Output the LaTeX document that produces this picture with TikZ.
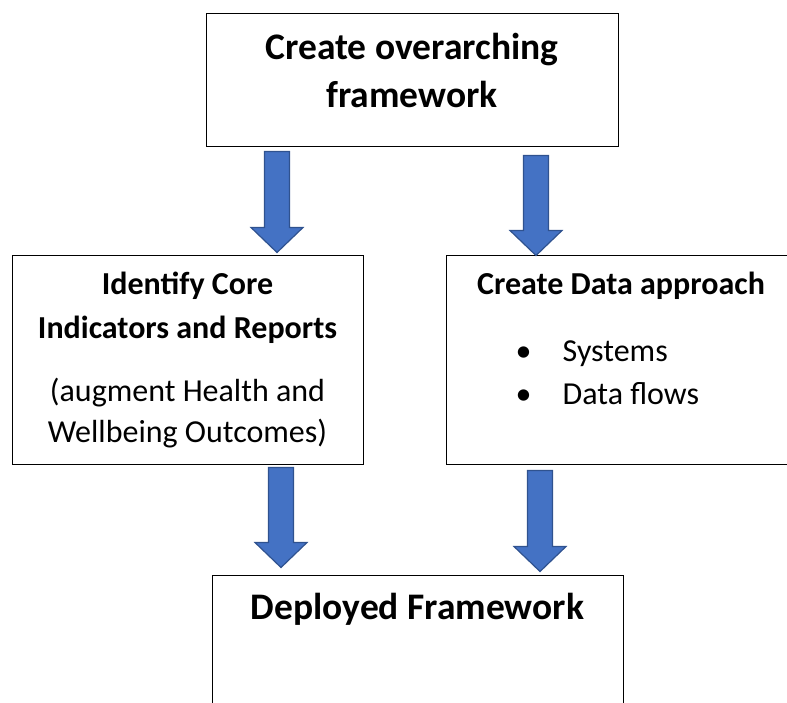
\documentclass[tikz,border=0pt]{standalone}
\usepackage{fontspec}
\setmainfont{Carlito}
\usetikzlibrary{positioning,calc}
\definecolor{arrowblue}{HTML}{4472C4}
\definecolor{arrowedge}{HTML}{2F528F}

\begin{document}
\begin{tikzpicture}[x=1pt,y=-1pt,
 box/.style={draw,line width=1pt,rectangle,inner sep=0pt},
 bigfont/.style={font=\fontsize{37.5}{48}\selectfont\bfseries},
 midfont/.style={font=\fontsize{32}{44}\selectfont},
 midbold/.style={font=\fontsize{32}{44}\selectfont\bfseries},
 blockarrow/.style={draw=arrowedge,fill=arrowblue,line width=1.2pt,
  to path={let \p1=(\tikztostart),\p2=(\tikztotarget) in
   (\x1-12.5pt,\y1)--(\x1+12.5pt,\y1)--(\x1+12.5pt,\y2+25pt)--(\x1+26pt,\y2+25pt)
   --(\x1,\y2)--(\x1-26pt,\y2+25pt)--(\x1-12.5pt,\y2+25pt)--cycle}}]
\useasboundingbox (0,0) rectangle (787,702);
\clip (0,0) rectangle (787,702);

\node (frame) [box,minimum width=412pt,minimum height=133pt] at (412,79.5) {};
\node (framehead) [bigfont,align=center,anchor=base] at ([yshift=-95pt]frame.north)
 {Create overarching\\framework};

\node (core) [box,minimum width=351pt,minimum height=209pt] at (187.5,359.5) {};
\node (corehead) [midfont,align=center,anchor=base] at ([yshift=-188pt]core.north)
 {\textbf{Identify Core}\\\textbf{Indicators and Reports}\\[19pt]
  (augment Health and\\[-3pt]Wellbeing Outcomes)};

\node (data) [box,minimum width=350pt,minimum height=209pt] at (621,359.5) {};
\node (datahead) [midbold,anchor=base] at ([yshift=-40pt]data.north) {Create Data approach};
\node (datalist) [midfont,align=left,anchor=base west,inner sep=0pt] at ([xshift=70pt,yshift=-150pt]data.north west)
 {\makebox[47pt][l]{\textbullet}Systems\\[-1pt]\makebox[47pt][l]{\textbullet}Data flows};

\node (deploy) [box,minimum width=411pt,minimum height=133pt] at (417.5,641.5) {};
\node (deployhead) [bigfont,anchor=base] at ([yshift=-45pt]deploy.north) {Deployed Framework};

\draw[blockarrow] ([xshift=-135pt,yshift=-5pt]frame.south) to ([xshift=89.5pt,yshift=2pt]core.north);
\draw[blockarrow] ([xshift=124pt,yshift=-9pt]frame.south) to ([xshift=-85pt,yshift=-1pt]data.north);
\draw[blockarrow] ([xshift=93.5pt,yshift=-3pt]core.south) to ([xshift=-136.5pt,yshift=7pt]deploy.north);
\draw[blockarrow] ([xshift=-81pt,yshift=-6pt]data.south) to ([xshift=122.5pt,yshift=3pt]deploy.north);
\end{tikzpicture}
\end{document}
